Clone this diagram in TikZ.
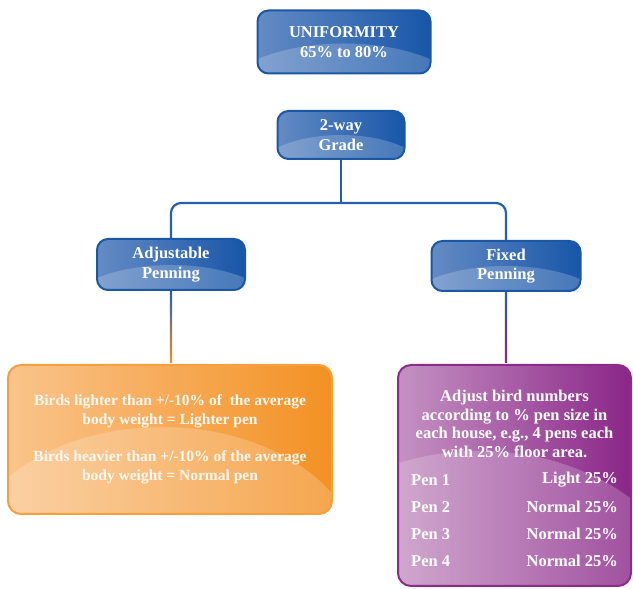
\documentclass[tikz,border=0pt]{standalone}
\usepackage{fontspec}
\setmainfont{Liberation Serif}
\usetikzlibrary{calc}

\definecolor{blueedge}{RGB}{26,88,166}
\definecolor{bluelight}{RGB}{100,139,196}
\definecolor{bluedark}{RGB}{24,86,168}
\definecolor{orangeedge}{RGB}{245,160,60}
\definecolor{orangelight}{RGB}{250,196,140}
\definecolor{orangedark}{RGB}{243,145,35}
\definecolor{purpleedge}{RGB}{138,44,138}
\definecolor{purplelight}{RGB}{196,146,194}
\definecolor{purpledark}{RGB}{138,38,136}
\definecolor{linkblue}{RGB}{36,96,170}

\tikzset{
	gloss/.style n args={4}{path picture={\fill[white,opacity=.2] ($(path picture bounding box.south)+(#1,-#2)$) ellipse [x radius=#3,y radius=#4];}},
	boxtext/.style={font=\bfseries\fontsize{16.5}{19.5}\selectfont, align=center, inner sep=0pt},
	pentext/.style={boxtext, font=\bfseries\fontsize{16.5}{18.7}\selectfont, text=white},
	bluebox/.style={boxtext, draw=blueedge, line width=2pt, rounded corners=11pt, left color=bluelight, right color=bluedark, text=white},
	orangebox/.style={boxtext, font=\bfseries\fontsize{15.5}{18.5}\selectfont, draw=orangeedge, line width=2pt, rounded corners=13pt, left color=orangelight, right color=orangedark, text=white!95!orange},
	purplebox/.style={boxtext, draw=purpleedge, line width=2pt, rounded corners=13pt, left color=purplelight, right color=purpledark, text=white},
	link/.style={draw=linkblue, line width=2.2pt}
}

\begin{document}
\begin{tikzpicture}[x=1pt,y=1pt]
			\useasboundingbox (0,0) rectangle (633,589);
			% top boxes
			\node[bluebox, minimum width=173pt, minimum height=63pt, gloss={0}{32}{130}{62}] (uni) at (344,547) {UNIFORMITY\\65\% to 80\%};
			\node[bluebox, minimum width=127pt, minimum height=48pt, gloss={0}{26}{96}{50}] (grade) at (341,454) {2-way\\Grade};
			\node[bluebox, minimum width=148pt, minimum height=51pt, gloss={0}{27}{112}{52}] (adj) at (171,324.5) {Adjustable\\Penning};
			\node[bluebox, minimum width=149pt, minimum height=50pt, gloss={0}{27}{112}{52}] (fix) at (506,323) {Fixed\\Penning};
			% bottom boxes
			\node[orangebox, minimum width=324pt, minimum height=149pt, gloss={-8}{53}{200}{140}] (light) at (170,149.5) {Birds lighter than +/-10\% of \ the average\\body weight = Lighter pen\\[19pt]Birds heavier than +/-10\% of the average\\body weight = Normal pen};
			\node[purplebox, minimum width=233pt, minimum height=221pt, gloss={-35}{38}{220}{173}] (fixed) at (514.5,113.5) {};
			\node[pentext] (adjust) at (514.5,165) {Adjust bird numbers\\according to \% pen size in\\each house, e.g., 4 pens each\\with 25\% floor area.};
			\node[pentext, anchor=west] (pen1) at (411,109) {Pen 1};
			\node[pentext, anchor=west] (pen2) at (411,82) {Pen 2};
			\node[pentext, anchor=west] (pen3) at (411,55) {Pen 3};
			\node[pentext, anchor=west] (pen4) at (411,28) {Pen 4};
			\node[pentext, anchor=east] (val1) at (618,109) {Light 25\%};
			\node[pentext, anchor=east] (val2) at (618,82) {Normal 25\%};
			\node[pentext, anchor=east] (val3) at (618,55) {Normal 25\%};
			\node[pentext, anchor=east] (val4) at (618,28) {Normal 25\%};
			% connectors
			\coordinate (split) at (341,386);
			\draw[link] (grade.south) -- (split);
			\draw[link, rounded corners=10pt] (adj.north) |- (split) -| (fix.north);
			\shade[top color=linkblue, bottom color=orangedark] ($(adj.south)+(-1.1,-1)$) rectangle ($(light.north -| adj.south)+(1.1,1)$);
			\shade[top color=linkblue, bottom color=purpledark] ($(fix.south)+(-1.1,-1)$) rectangle ($(fixed.north -| fix.south)+(1.1,1)$);
\end{tikzpicture}
\end{document}
